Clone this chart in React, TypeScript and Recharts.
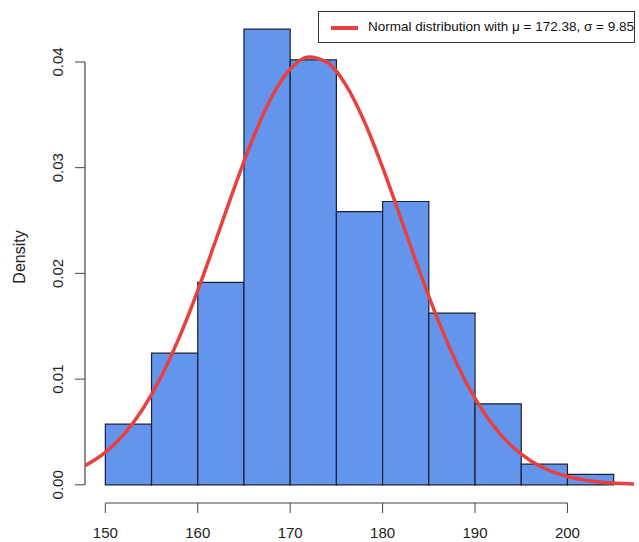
import { ComposedChart, Line, ReferenceArea, ReferenceLine, XAxis, YAxis } from 'recharts'

// histogram bins (edges) and their densities
const binEdges = [150, 155, 160, 165, 170, 175, 180, 185, 190, 195, 200, 205]
const densities = [0.00574, 0.01245, 0.01915, 0.0431, 0.0402, 0.02585, 0.0268, 0.01625, 0.00766, 0.00195, 0.00098]

// normal curve
const curveX = [147.8, 150, 152, 154, 156, 158, 160, 162, 164, 166, 168, 170, 172, 174, 176, 178, 180, 182, 184, 186, 188, 190, 192, 194, 196, 198, 200, 202, 204, 206, 207.2]
const curveY = [0.0018, 0.00307, 0.00476, 0.0071, 0.01016, 0.01395, 0.01838, 0.02325, 0.0282, 0.03284, 0.03669, 0.03933, 0.04047, 0.03996, 0.03786, 0.03442, 0.03003, 0.02514, 0.0202, 0.01557, 0.01152, 0.00818, 0.00557, 0.00364, 0.00228, 0.00137, 0.00079, 0.00044, 0.00023, 0.00012, 0.00008]

const xTicks = [150, 160, 170, 180, 190, 200]
const yTicks = [0, 0.01, 0.02, 0.03, 0.04]

const xDomain: [number, number] = [147.8, 207.2]
const yDomain: [number, number] = [-0.00172, 0.04482]

const font = '"Liberation Sans", Arial, sans-serif'
const axisColor = '#444'
const red = '#e8403f'

const curve = curveX.map((x, i) => ({ x, y: curveY[i] }))
const bins = densities.map((d, i) => ({ x1: binEdges[i], x2: binEdges[i + 1], d }))

const YTick = ({ y, payload }: any) => (
  <text x={63} y={y} transform={`rotate(-90 63 ${y})`} textAnchor="middle" fontSize={15} fill="#222" fontFamily={font}>
    {Number(payload.value).toFixed(2)}
  </text>
)

const XTick = ({ x, y, payload }: any) => (
  <text x={x} y={y} dy={23} textAnchor="middle" fontSize={15} fill="#222" fontFamily={font}>
    {payload.value}
  </text>
)

export default function App() {
  return (
    <div style={{ position: 'absolute', left: 0, top: 0, width: 639, height: 542, background: '#fff', fontFamily: font }}>
      <ComposedChart width={639} height={542} data={curve} margin={{ top: 11, right: 5, bottom: 0, left: 0 }}>
        <XAxis
          dataKey="x"
          type="number"
          domain={xDomain}
          ticks={xTicks}
          axisLine={false}
          tickSize={10}
          tickLine={{ stroke: axisColor }}
          tick={<XTick />}
          height={39}
          allowDataOverflow
        />
        <YAxis
          type="number"
          domain={yDomain}
          ticks={yTicks}
          axisLine={false}
          tickSize={10}
          tickLine={{ stroke: axisColor }}
          tick={<YTick />}
          width={85}
          allowDataOverflow
          label={{
            content: ({ viewBox }: any) => {
              const cy = viewBox.y + viewBox.height / 2
              return (
                <text x={25} y={cy} transform={`rotate(-90 25 ${cy})`} textAnchor="middle" fontSize={16} fill="#222" fontFamily={font}>
                  Density
                </text>
              )
            },
          }}
        />
        {bins.map((b) => (
          <ReferenceArea
            key={b.x1}
            x1={b.x1}
            x2={b.x2}
            y1={0}
            y2={b.d}
            fill="#6495ed"
            fillOpacity={1}
            stroke="#1c1f33"
            strokeWidth={1.2}
            ifOverflow="visible"
          />
        ))}
        <ReferenceLine
          segment={[{ x: xTicks[0], y: yDomain[0] }, { x: xTicks[xTicks.length - 1], y: yDomain[0] }]}
          stroke={axisColor}
          strokeWidth={1.2}
          ifOverflow="visible"
        />
        <ReferenceLine
          segment={[{ x: xDomain[0], y: yTicks[0] }, { x: xDomain[0], y: yTicks[yTicks.length - 1] }]}
          stroke={axisColor}
          strokeWidth={1.2}
          ifOverflow="visible"
        />
        <Line type="monotone" dataKey="y" stroke={red} strokeWidth={3.5} dot={false} isAnimationActive={false} />
      </ComposedChart>
      <div
        style={{
          position: 'absolute',
          left: 318,
          top: 11,
          width: 315,
          height: 30,
          border: '1px solid #333',
          background: '#fff',
          boxSizing: 'content-box',
        }}
      >
        <div style={{ position: 'absolute', left: 12, top: 14, width: 27, height: 3.5, background: red }} />
        <div style={{ position: 'absolute', left: 49, top: 7, fontSize: 13.5, lineHeight: '16px', color: '#111', whiteSpace: 'nowrap' }}>
          Normal distribution with μ = 172.38, σ = 9.85
        </div>
      </div>
    </div>
  )
}
